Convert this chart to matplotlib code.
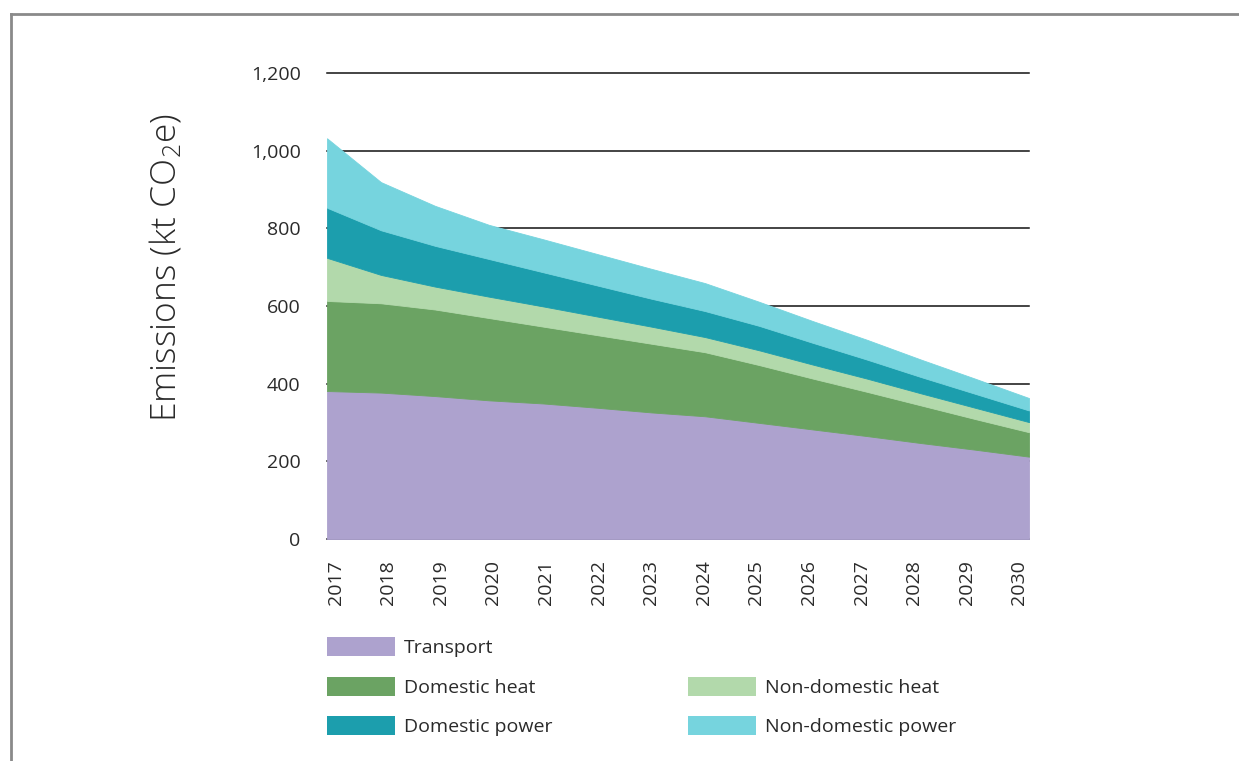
import matplotlib
matplotlib.use("Agg")
import matplotlib.pyplot as plt
from matplotlib.patches import Rectangle
from matplotlib.lines import Line2D
import numpy as np

plt.rcParams['font.family'] = ['Open Sans', 'DejaVu Sans']
plt.rcParams['mathtext.default'] = 'regular'

years = [2017, 2018, 2019, 2020, 2021, 2022, 2023, 2024, 2025, 2026, 2027, 2028, 2029, 2030]
transport = [381, 377, 368, 357, 349, 338, 326, 316, 299, 282, 265, 247, 230, 212]
domestic_heat = [232, 230, 223, 212, 198, 187, 177, 165, 149, 131, 114, 97, 79, 63]
non_domestic_heat = [111, 73, 59, 55, 52, 48, 44, 39, 38, 36, 34, 31, 29, 26]
domestic_power = [129, 115, 105, 97, 88, 80, 72, 67, 63, 56, 49, 42, 36, 30]
non_domestic_power = [179, 124, 103, 88, 85, 81, 77, 72, 62, 56, 51, 45, 39, 32]

series_names = ["Transport", "Domestic heat", "Non-domestic heat",
                "Domestic power", "Non-domestic power"]
colors = ["#ada2ce", "#6ba363", "#b2d9ab", "#1c9ead", "#76d4de"]
y_ticks = [0, 200, 400, 600, 800, 1000, 1200]
y_tick_labels = ["0", "200", "400", "600", "800", "1,000", "1,200"]

W, H = 1239, 761
fig = plt.figure(figsize=(W / 100, H / 100), dpi=100)
ax = fig.add_axes([327 / W, (H - 539) / H, 702 / W, 466 / H])

ax.stackplot(years, transport, domestic_heat, non_domestic_heat,
             domestic_power, non_domestic_power, colors=colors,
             linewidth=0.6, edgecolor='face', zorder=3)

ax.set_xlim(2017, 2030)
ax.set_ylim(0, 1200)
ax.set_yticks(y_ticks)
ax.set_yticklabels(y_tick_labels)
ax.yaxis.grid(True, color="#111111", linewidth=1.1)
for gl in ax.yaxis.get_gridlines():
    gl.set_clip_on(False)
ax.set_axisbelow(True)

tick_pos = np.linspace(2017.16, 2029.82, len(years))
ax.set_xticks(tick_pos)
ax.set_xticklabels([str(y) for y in years], rotation=90)
ax.tick_params(axis='both', length=0, labelsize=14, labelcolor="#2a2a2a")
ax.tick_params(axis='y', pad=19)
ax.tick_params(axis='x', pad=15)
for s in ax.spines.values():
    s.set_visible(False)

fig.text(166 / W, 1 - 268 / H, "Emissions (kt CO$_2$e)", rotation=90,
         ha='center', va='center', fontsize=25.5, color="#2a2a2a",
         fontweight='light')

# legend
legend_items = [
    (0, 0, 0), (1, 1, 0), (2, 1, 1), (3, 2, 0), (4, 2, 1)
]
row_y = [646.7, 686.5, 725.3]
col_x = [327, 688]
for idx, row, col in legend_items:
    x0 = col_x[col]
    yc = row_y[row]
    fig.patches.append(Rectangle((x0 / W, 1 - (yc + 9.3) / H), 68 / W, 18.6 / H,
                                 transform=fig.transFigure, facecolor=colors[idx],
                                 edgecolor='none'))
    fig.text((x0 + 77) / W, 1 - (yc + 1.5) / H, series_names[idx], ha='left',
             va='center', fontsize=14, color="#2a2a2a")

# frame
fig.add_artist(Line2D([11 / W, 1.0], [1 - 14 / H, 1 - 14 / H], transform=fig.transFigure,
                      color="#8a8a8a", linewidth=2))
fig.add_artist(Line2D([11 / W, 11 / W], [1 - 14 / H, 0], transform=fig.transFigure,
                      color="#8a8a8a", linewidth=2))

fig.savefig("out.png", dpi=100)
